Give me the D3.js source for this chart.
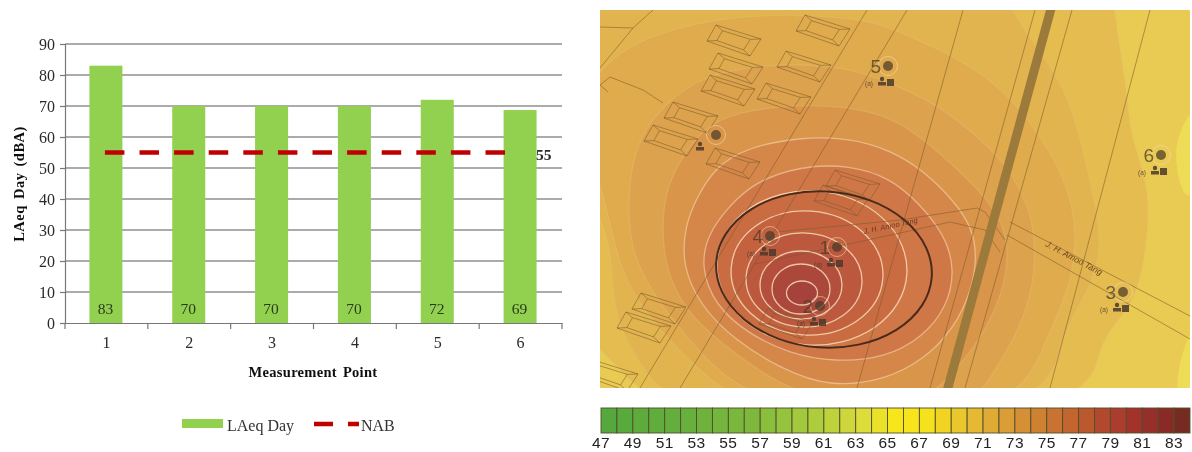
<!DOCTYPE html>
<html><head><meta charset="utf-8">
<script src="https://cdn.jsdelivr.net/npm/d3@7"></script>
<style>html,body{margin:0;padding:0;background:#fff;overflow:hidden}svg{display:block}</style>
</head><body><svg id="c" width="1192" height="452"></svg>
<script>
// ---- bar chart data
const points = ["1","2","3","4","5","6"];
const laeqDay = [83,70,70,70,72,68.7];
const barLabels = ["83","70","70","70","72","69"];
const nabValue = 55;
const yTicks = [0,10,20,30,40,50,60,70,80,90];
// ---- colour legend
const legendLevels = d3.range(47,84);
const legendLabels = d3.range(47,84,2);
const legendStopLevels = [47,52,56,60,63,65,67,70,73,76,78,80,82,83];
const legendStopColors = ["#55a83d","#68b03c","#7eb93d","#aecd3c","#dcdc3a","#f7e61e","#f6e21c","#e6b935","#d58f35","#c2652f","#b24a2f","#a2322b","#8a2a26","#772b23"];
// ---- noise map: outer contours traced as [x,y], inner ones as [cx,cy,rx,ry,tilt]
const contourColors = ["#e4bc50","#e1b44f","#dfab4e","#dca24d","#d9964b","#d58649","#d07746"];
const contourLines = [
 [[1110,-60],[1113,10],[1127,88],[1130,138],[1150,185],[1147,247],[1135,307],[1093,343],[1097,420],[655,420],[620,363],[580,340],[540,150],[520,-80]],
 [[990,-40],[1008,5],[1033,42],[1057,75],[1075,115],[1093,192],[1103,247],[1090,290],[1057,340],[1050,420],[680,420],[640,365],[615,320],[612,273],[607,223],[560,150],[520,-80]],
 [[570,110],[600,70],[627,46],[683,25],[750,15],[813,15],[867,20],[890,28],[953,55],[1003,88],[1043,138],[1077,202],[1075,280],[1045,340],[1015,420],[760,420],[700,372],[650,320],[618,270],[605,190]],
 [[630,175],[640,135],[667,102],[700,78],[750,66],[800,64],[850,68],[890,83],[933,102],[973,132],[1007,165],[1027,202],[1035,235],[1035,280],[1020,330],[990,378],[970,410],[770,410],[713,367],[687,337],[657,300],[633,257],[628,215]],
 [[662,225],[666,190],[680,160],[703,128],[735,112],[800,104],[850,107],[890,117],[923,138],[967,178],[992,205],[1007,235],[1008,265],[1000,300],[980,340],[950,377],[920,405],[810,400],[760,372],[717,340],[685,310],[665,268]],
 [[682,265],[685,225],[698,195],[715,168],[745,148],[800,137],[850,138],[890,150],[923,170],[955,202],[972,228],[977,255],[972,290],[953,330],[923,360],[885,380],[830,387],[783,370],[733,339],[700,305]],
 [[701,268],[707,235],[730,205],[755,182],[800,166],[850,165],[890,178],[918,202],[945,235],[955,270],[947,307],[923,337],[885,358],[835,362],[790,354],[747,333],[715,305]]
];
const ringColors = ["#ca6c43","#c46240","#bc583e","#b44f3c","#ab473a","#a5423a"];
const ringEllipses = [
 [812,268,95,77,4],[807,273,76,62,4],[804,280,58,47,3],[801,285,41,34,0],[801,289,29,25,0],[802,293,15.5,12,0]
];
const blackRing = [824,269.5,108,78,4];
const brightPatches = [
 [[1195,105],[1187,118],[1173,145],[1180,192],[1195,205]],
 [[1200,325],[1187,333],[1170,400],[1200,410]]
];
const mainRoad = [[1052,5],[946,395]];
const thinRoads = [
 [[867,10],[640,388]],[[907,10],[680,388]],[[963,10],[857,388]],[[1035,10],[930,388]],[[1072,10],[965,388]],[[1150,10],[1050,388]],
 [[1010,222],[1190,316]],[[1007,235],[1190,339]],
 [[777,232],[900,220],[977,208],[985,212],[1005,240]],[[755,264],[900,233],[950,222],[985,230],[1000,252]],
 [[600,27],[633,28],[653,10]],[[600,68],[633,28]],[[600,85],[610,77],[643,90],[663,103]],[[600,85],[608,92]]
];
const roofCenters = [[733,40],[822,30],[735,68],[803,66],[727,90],[783,98],[690,117],[670,140],[732,163],[852,185],[840,200],[658,308],[643,327],[785,323],[610,375]];
const roofOutline = [[-17,-15],[28,-1],[17,16],[-26,1]];
const receivers = [
 {id:"5",x:888,y:66},{id:"6",x:1161,y:155},{id:"4",x:770,y:236},{id:"1",x:837,y:247},{id:"2",x:820,y:306},{id:"3",x:1123,y:292},{id:"",x:716,y:135}
];
const roadName = "J. H. Amoo Tang";

const svg = d3.select("#c");
const defs = svg.append("defs");
defs.append("filter").attr("id","soft").attr("x","-5%").attr("y","-5%").attr("width","110%").attr("height","110%")
  .append("feGaussianBlur").attr("stdDeviation",0.55);
defs.append("filter").attr("id","softer").attr("x","-5%").attr("y","-5%").attr("width","110%").attr("height","110%")
  .append("feGaussianBlur").attr("stdDeviation",0.75);
defs.append("clipPath").attr("id","mapclip").append("rect").attr("x",600).attr("y",10).attr("width",590).attr("height",378);

// ---------- bar chart
const serif = "'Liberation Serif','Times New Roman',serif";
const x = d3.scaleBand().domain(points).range([65,562]);
const y = d3.scaleLinear().domain([0,90]).range([323,44]);
const left = svg.append("g").attr("filter","url(#soft)").attr("font-family",serif);

left.append("g").selectAll("line").data(yTicks.slice(1)).join("line")
  .attr("x1",x.range()[0]).attr("x2",x.range()[1]).attr("y1",d=>y(d)).attr("y2",d=>y(d))
  .attr("stroke","#8f8f8f").attr("stroke-width",1.4);

const yAxis = left.append("g").attr("transform",`translate(${x.range()[0]},0)`)
  .call(d3.axisLeft(y).tickValues(yTicks).tickSize(5).tickPadding(5));
const xAxis = left.append("g").attr("transform",`translate(0,${y(0)})`)
  .call(d3.axisBottom(x).tickSize(0).tickPadding(14));
xAxis.selectAll("line.sep").data(d3.range(points.length+1)).join("line").attr("class","sep")
  .attr("x1",i=>x.range()[0]+i*x.step()).attr("x2",i=>x.range()[0]+i*x.step()).attr("y1",0).attr("y2",6)
  .attr("stroke","#777").attr("stroke-width",1.2);
[yAxis,xAxis].forEach(a=>{
  a.selectAll(".domain,.tick line").attr("stroke","#777").attr("stroke-width",1.2);
  a.selectAll("text").attr("font-family",serif).attr("font-size",16).attr("fill","#2a2a2a");
});

const bw = 33;
left.append("g").selectAll("rect").data(laeqDay).join("rect")
  .attr("x",(d,i)=>x(points[i])+x.bandwidth()/2-bw/2-0.5).attr("width",bw)
  .attr("y",d=>y(d)).attr("height",d=>y(0)-y(d)).attr("fill","#92d050");

left.append("g").selectAll("text").data(barLabels).join("text")
  .attr("x",(d,i)=>x(points[i])+x.bandwidth()/2-1).attr("y",y(0)-9)
  .attr("text-anchor","middle").attr("font-size",15.5).attr("fill","#2a3a1a").text(d=>d);

left.append("line")
  .attr("x1",x(points[0])+x.bandwidth()/2-1.5).attr("x2",x(points[5])+x.bandwidth()/2-4)
  .attr("y1",y(nabValue)).attr("y2",y(nabValue))
  .attr("stroke","#c00000").attr("stroke-width",4.6).attr("stroke-dasharray","19.5 15.1");
left.append("text").attr("x",536).attr("y",y(nabValue)+7).attr("font-size",15.5).attr("font-weight","bold").attr("fill","#2a2a2a").text(nabValue);

left.append("text").attr("x",313).attr("y",377).attr("text-anchor","middle")
  .attr("font-size",14.5).attr("font-weight","bold").attr("word-spacing",2).attr("letter-spacing",.3).attr("fill","#111").text("Measurement Point");
left.append("text").attr("transform","translate(24,184) rotate(-90)").attr("text-anchor","middle")
  .attr("font-size",14.5).attr("font-weight","bold").attr("word-spacing",2).attr("letter-spacing",.5).attr("fill","#111").text("LAeq Day (dBA)");

left.append("rect").attr("x",182).attr("y",419).attr("width",41).attr("height",9).attr("fill","#92d050");
left.append("text").attr("x",227).attr("y",431).attr("font-size",16).attr("fill","#333").text("LAeq Day");
left.append("line").attr("x1",314).attr("x2",359).attr("y1",424).attr("y2",424)
  .attr("stroke","#c00000").attr("stroke-width",4.6).attr("stroke-dasharray","19 15");
left.append("text").attr("x",361).attr("y",431).attr("font-size",16).attr("fill","#333").text("NAB");

// ---------- noise map
const mx = d3.scaleLinear().domain([600,1190]).range([600,1190]);
const my = d3.scaleLinear().domain([10,388]).range([10,388]);
const closed = d3.line().x(d=>mx(d[0])).y(d=>my(d[1])).curve(d3.curveBasisClosed);
const open = d3.line().x(d=>mx(d[0])).y(d=>my(d[1]));
const map = svg.append("g").attr("clip-path","url(#mapclip)").append("g").attr("filter","url(#softer)");
const tilt = d=>`rotate(${d[4]} ${mx(d[0])} ${my(d[1])})`;

map.append("rect").attr("x",590).attr("y",0).attr("width",610).attr("height",400).attr("fill","#e9ca52");
map.append("g").selectAll("path").data(brightPatches).join("path").attr("d",closed).attr("fill","#eedb57");
map.append("g").selectAll("path").data(contourLines).join("path")
  .attr("d",closed).attr("fill",(d,i)=>contourColors[i])
  .attr("stroke",(d,i)=>i<5?"#e8c47a":"#f3d8b0")
  .attr("stroke-opacity",(d,i)=>i<5?0.35:0.6)
  .attr("stroke-width",1.3);
map.append("g").selectAll("ellipse").data(ringEllipses).join("ellipse")
  .attr("cx",d=>mx(d[0])).attr("cy",d=>my(d[1])).attr("rx",d=>d[2]).attr("ry",d=>d[3]).attr("transform",tilt)
  .attr("fill",(d,i)=>ringColors[i]).attr("stroke","#f6dcb8").attr("stroke-opacity",.85).attr("stroke-width",1.3);

const lineInk = "#7a5a28";
map.append("g").selectAll("path").data(thinRoads).join("path")
  .attr("d",open).attr("fill","none").attr("stroke",lineInk).attr("stroke-opacity",.55).attr("stroke-width",1);
map.append("path").datum(mainRoad).attr("d",open).attr("stroke","#9b7a3a").attr("stroke-width",9).attr("fill","none");

const roofs = map.append("g").attr("fill","none").attr("stroke",lineInk).attr("stroke-opacity",.62).attr("stroke-width",.9);
roofCenters.forEach(c=>{
  const outer = roofOutline.map(p=>[c[0]+p[0],c[1]+p[1]]);
  const inner = roofOutline.map(p=>[c[0]+p[0]*.62,c[1]+p[1]*.62]);
  roofs.append("path").datum(outer).attr("d",d=>open(d)+"Z");
  roofs.append("path").datum(inner).attr("d",d=>open(d)+"Z");
  outer.forEach((p,i)=>roofs.append("path").datum([p,inner[i]]).attr("d",open));
});

map.append("ellipse").datum(blackRing).attr("cx",d=>mx(d[0])).attr("cy",d=>my(d[1])).attr("rx",d=>d[2]).attr("ry",d=>d[3]).attr("transform",tilt)
  .attr("fill","none").attr("stroke","#4a2b1e").attr("stroke-width",2);

map.append("text").attr("transform",`translate(${mx(1045)},${my(246)}) rotate(28)`)
  .attr("font-family","'Liberation Sans',sans-serif").attr("font-size",8.5).attr("font-style","italic").attr("fill","#6a4a22").text(roadName);
map.append("text").attr("transform",`translate(${mx(864)},${my(234)}) rotate(-12)`)
  .attr("font-family","'Liberation Sans',sans-serif").attr("font-size",7.5).attr("font-style","italic").attr("fill","#6a3a22").text(roadName);

const ink = "#4a3a2a";
const rec = map.append("g").selectAll("g").data(receivers).join("g")
  .attr("transform",d=>`translate(${mx(d.x)},${my(d.y)})`);
rec.append("circle").attr("r",9.5).attr("fill","none").attr("stroke","#f2e2b8").attr("stroke-opacity",.55).attr("stroke-width",1);
rec.append("circle").attr("r",5).attr("fill",ink).attr("fill-opacity",.72);
rec.append("text").attr("x",-7).attr("y",7).attr("text-anchor","end")
  .attr("font-family","'Liberation Sans',sans-serif").attr("font-size",19).attr("fill",ink).attr("fill-opacity",.75).text(d=>d.id);
rec.filter(d=>d.id).append("text").attr("x",-23).attr("y",20)
  .attr("font-family","'Liberation Sans',sans-serif").attr("font-size",6.5).attr("fill",ink).attr("fill-opacity",.8).text("(a)");
const icon = rec.append("g").attr("fill",ink).attr("fill-opacity",.85)
  .attr("transform",d=>d.id?null:"translate(-10,-4)");
icon.append("circle").attr("cx",-6).attr("cy",13).attr("r",2.2);
icon.append("rect").attr("x",-10).attr("y",16).attr("width",8).attr("height",3.5);
icon.filter(d=>d.id).append("rect").attr("x",-1).attr("y",13).attr("width",7).attr("height",7);

// ---------- colour legend
const lc = d3.scaleLinear().domain(legendStopLevels).range(legendStopColors);
const lx = d3.scaleLinear().domain([47,84]).range([601,1190]);
const leg = svg.append("g").attr("filter","url(#soft)");
leg.selectAll("rect").data(legendLevels).join("rect")
  .attr("x",d=>lx(d)).attr("width",d=>lx(d+1)-lx(d)).attr("y",408).attr("height",25)
  .attr("fill",d=>lc(d)).attr("stroke","#4f4f2a").attr("stroke-width",.9);
leg.selectAll("text").data(legendLabels).join("text")
  .attr("x",d=>lx(d)).attr("y",448).attr("text-anchor","middle")
  .attr("font-family","'Liberation Sans',sans-serif").attr("font-size",15.5).attr("letter-spacing",.4).attr("fill","#222").text(d=>d);
</script></body></html>
